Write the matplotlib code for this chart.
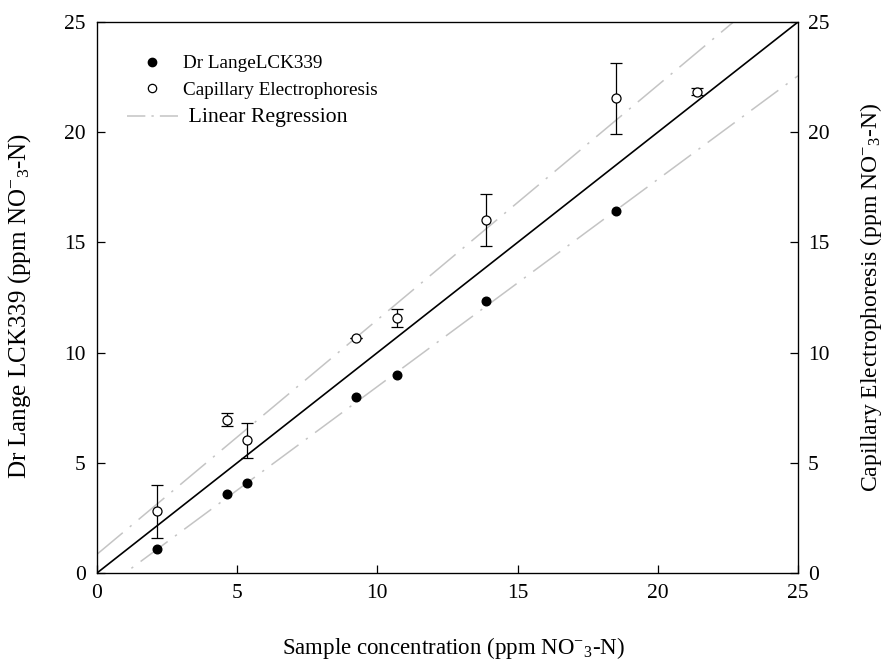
import matplotlib
matplotlib.use('Agg')
import matplotlib.pyplot as plt
import numpy as np
from matplotlib.lines import Line2D

plt.rcParams['font.family'] = ['Liberation Serif', 'DejaVu Serif']
plt.rcParams['mathtext.fontset'] = 'custom'
plt.rcParams['mathtext.rm'] = 'Liberation Serif'
plt.rcParams['mathtext.it'] = 'Liberation Serif:italic'
plt.rcParams['mathtext.default'] = 'regular'

# sample concentrations (ppm NO3-N)
sample_conc = [2.13, 4.62, 5.34, 9.24, 10.71, 13.87, 18.5]
lange_vals = [1.09, 3.58, 4.07, 8.0, 8.98, 12.34, 16.42]

ce_conc = [2.13, 4.62, 5.34, 9.24, 10.71, 13.87, 18.5, 21.41]
ce_vals = [2.8, 6.95, 6.02, 10.68, 11.57, 16.0, 21.53, 21.84]
ce_err = [1.2, 0.3, 0.78, 0.0, 0.43, 1.18, 1.6, 0.17]

# regression lines (intercept, slope)
ce_fit = (0.85, 1.064)
lange_fit = (-0.94, 0.94)

unit = ' (ppm NO$^{-}{}_{3}$-N)'

fig = plt.figure(figsize=(8.84, 6.61), dpi=100)
ax = fig.add_axes([0.1097, 0.1331, 0.7930, 0.8336])

xx = np.array([0, 25])
ax.plot(xx, xx, color='black', lw=1.2, zorder=2)
dash = (22, 6, 1.5, 6)
ax.plot(xx, ce_fit[0] + ce_fit[1] * xx, color='#c4c4c4', lw=1.1, dashes=dash, zorder=1)
ax.plot(xx, lange_fit[0] + lange_fit[1] * xx, color='#c4c4c4', lw=1.1, dashes=dash, zorder=1)

ax.plot(sample_conc, lange_vals, 'o', color='black', ms=6.2, zorder=4)
ax.errorbar(ce_conc, ce_vals, yerr=ce_err, fmt='o', mfc='white', mec='black', mew=0.9,
            ms=6.5, ecolor='black', elinewidth=0.9, capsize=4, capthick=0.9, zorder=5)

ax.set_xlim(0, 25)
ax.set_ylim(0, 25)
ax.set_xticks(range(0, 26, 5))
ax.set_yticks(range(0, 26, 5))
ax.tick_params(direction='in', length=6, width=0.9, labelsize=15.5, pad=8)
for s in ax.spines.values():
    s.set_linewidth(0.9)

ax2 = ax.twinx()
ax2.set_ylim(0, 25)
ax2.set_yticks(range(0, 26, 5))
ax2.tick_params(direction='in', length=6, width=0.9, labelsize=15.5, pad=7)

ax.set_xlabel('Sample concentration' + unit, fontsize=16.5, va='bottom')
ax.xaxis.set_label_coords(0.509, -0.159)
ax.set_ylabel('Dr Lange LCK339' + unit, fontsize=18)
ax.yaxis.set_label_coords(-0.0913, 0.485)
ax2.set_ylabel('Capillary Electrophoresis' + unit, fontsize=17)
ax2.yaxis.set_label_coords(1.086, 0.5)

handles = [
    Line2D([], [], ls='none', marker='o', color='black', ms=6),
    Line2D([], [], ls='none', marker='o', mfc='white', mec='black', mew=0.9, ms=6),
    Line2D([], [], color='#c4c4c4', lw=1.1, dashes=(12, 4, 1.5, 4)),
]
leg = ax.legend(handles, ['Dr LangeLCK339', 'Capillary Electrophoresis', ' Linear Regression'],
                loc='upper left', bbox_to_anchor=(0.0428, 0.940), frameon=False, fontsize=13.8,
                borderaxespad=0, borderpad=0, handlelength=2.66, handletextpad=0.25,
                labelspacing=0.48)
leg.get_texts()[2].set_fontsize(15.7)

fig.savefig('out.png', dpi=100)
